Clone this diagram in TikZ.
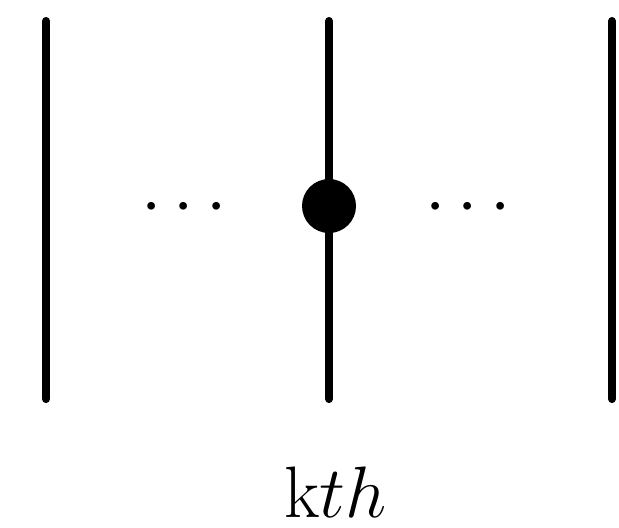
\documentclass[tikz,border=0pt]{standalone}
\usetikzlibrary{positioning}
\tikzset{
  strand/.style={line width=2.3pt, line cap=round},
  bigtext/.style={inner sep=0pt, font=\fontsize{22.5}{27}\selectfont}
}
\begin{document}
\begin{tikzpicture}[>=stealth, scale=1]
    \useasboundingbox (0,0) rectangle (6.19,5.27);

    \def\T{5.06}   % top end of the strands
    \def\B{1.28}   % bottom end of the strands

    % the three strands
    \draw[strand] (0.46,\B) -- (0.46,\T);
    \draw[strand] (3.29,\B) -- (3.29,\T);
    \draw[strand] (6.12,\B) -- (6.12,\T);

    % the marked point on the middle strand
    \fill (3.29,3.21) circle (0.27);

    % dots between the strands
    \node[bigtext] (dotsleft) at (1.84,3.19) {$\cdots$};
    \node[bigtext] (dotsright) at (4.68,3.19) {$\cdots$};

    % label under the middle strand
    \node[bigtext, anchor=base] (label) at (3.355,0.10) {$\mathrm{k}th$};

\end{tikzpicture}
\end{document}
